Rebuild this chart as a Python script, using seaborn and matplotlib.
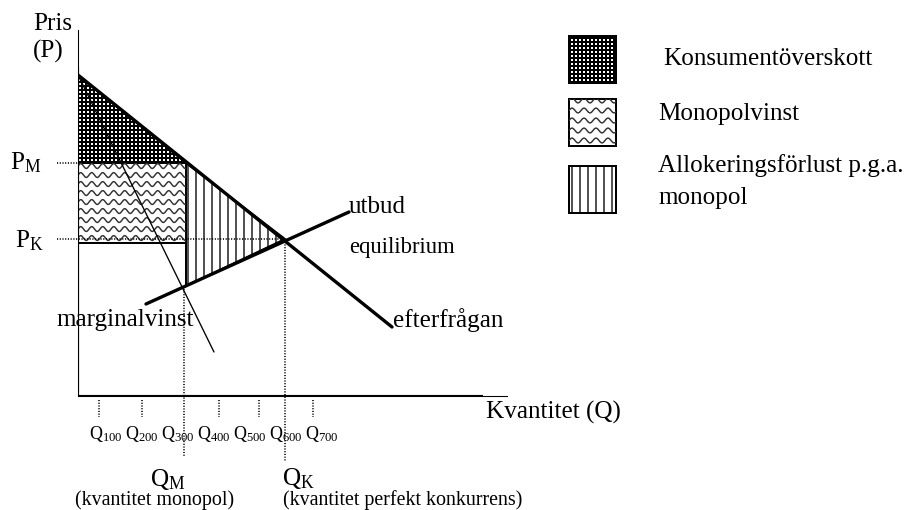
import numpy as np
import matplotlib
matplotlib.use('Agg')
import matplotlib.pyplot as plt
import matplotlib.patches as mpatches
import seaborn as sns

# Kurvor (kvantitet, pris)
demand_q = [0, 314]
demand_p = [321, 69]
supply_q = [68, 271]
supply_p = [92, 184]
mr_q = [0, 136]
mr_p = [321, 44]

# Jämviktspunkter
q_m, p_m = 108, 233
q_k, p_k = 207, 157
p_supply_at_qm = 110
profit_floor = 153

# Prickade markeringar och etiketter på kvantitetsaxeln
tick_marks_q = [21, 64, 141, 181, 235]
tick_labels = ['100', '200', '300', '400', '500', '600', '700']
tick_label_q = [28, 64, 100, 136, 172, 208, 244]

legend_labels = ['Konsumentöverskott', 'Monopolvinst',
                 'Allokeringsförlust p.g.a.', 'monopol']

DPI = 96
sns.set_theme(style='white', rc={'text.color': 'black', 'axes.edgecolor': 'black'})
plt.rcParams['font.family'] = ['Liberation Serif', 'DejaVu Serif']
plt.rcParams['mathtext.fontset'] = 'custom'
plt.rcParams['mathtext.rm'] = 'Liberation Serif'
plt.rcParams['mathtext.it'] = 'Liberation Serif:italic'


def hatch_lw(patch, lw):
    plt.rcParams['hatch.linewidth'] = lw
    if hasattr(patch, 'set_hatch_linewidth'):
        patch.set_hatch_linewidth(lw)


def wavy(ax, x0, x1, y0, y1, clip, spacing=9, period=11, amp=2.4):
    # vågmönster, klippt till rutan
    xs = np.linspace(x0, x1, int((x1 - x0) * 4) + 2)
    for yc in np.arange(y0 + spacing * 0.55, y1, spacing):
        ys = yc + amp * np.sin(2 * np.pi * (xs - x0) / period)
        line, = ax.plot(xs, ys, color='0.2', lw=1.1, zorder=clip.get_zorder() + 0.5)
        line.set_clip_path(clip)


fig = plt.figure(figsize=(904 / DPI, 510 / DPI), dpi=DPI)
ax = fig.add_axes([78 / 904, 114 / 510, 429 / 904, 366 / 510])
ax.set_xlim(0, 429)
ax.set_ylim(0, 366)
ax.set_xticks([])
ax.set_yticks([])
for side in ['top', 'right']:
    ax.spines[side].set_visible(False)
for side in ['left', 'bottom']:
    ax.spines[side].set_linewidth(0.8)
ax.plot([0, 405], [0, 0], color='black', lw=1.6, solid_capstyle='butt', zorder=3)
ax.plot([0, 0], [0, 329], color='black', lw=1.6, solid_capstyle='butt', zorder=3)

# Konsumentöverskott
cs = mpatches.Polygon([[0, demand_p[0]], [0, p_m], [q_m, p_m]], closed=True,
                      facecolor='white', edgecolor='black', hatch='++++', lw=1.5, zorder=1)
hatch_lw(cs, 1.5)
ax.add_patch(cs)

# Monopolvinst
profit = mpatches.Rectangle((0, profit_floor), q_m, p_m - profit_floor,
                            facecolor='white', edgecolor='black', lw=1.5, zorder=1)
ax.add_patch(profit)
wavy(ax, 0, q_m, profit_floor, p_m, profit)

# Allokeringsförlust
dwl = mpatches.Polygon([[q_m, p_m], [q_k, p_k], [q_m, p_supply_at_qm]], closed=True,
                       facecolor='white', edgecolor='black', hatch='||', lw=1.5, zorder=1)
hatch_lw(dwl, 1.0)
ax.add_patch(dwl)

# Kurvor
sns.lineplot(x=demand_q, y=demand_p, ax=ax, color='black', lw=2.5, zorder=5)
sns.lineplot(x=supply_q, y=supply_p, ax=ax, color='black', lw=2.5, zorder=5)
sns.lineplot(x=mr_q, y=mr_p, ax=ax, color='black', lw=1.0, zorder=5)

# Prickade hjälplinjer
dot = dict(color='black', lw=1.2, linestyle=(0, (0.7, 1.0)), clip_on=False, zorder=4)
ax.plot([-21, 0], [p_m, p_m], **dot)
ax.plot([-21, q_k], [p_k, p_k], **dot)
ax.plot([q_m - 2, q_m - 2], [p_supply_at_qm, -61], **dot)
ax.plot([q_k, q_k], [p_k, -66], **dot)
for q in tick_marks_q:
    ax.plot([q, q], [-4, -21], **dot)

# Texter
big = 18.8
ax.text(-45, 366, 'Pris', fontsize=big, va='baseline', ha='left')
ax.text(-45, 338, '(P)', fontsize=big, va='baseline', ha='left')
ax.text(-68, 227, r'P$_{\mathrm{M}}$', fontsize=big, va='baseline', ha='left')
ax.text(-63, 149, r'P$_{\mathrm{K}}$', fontsize=big, va='baseline', ha='left')
ax.text(271, 183, 'utbud', fontsize=big, va='baseline', ha='left')
ax.text(271, 143, 'equilibrium', fontsize=17, va='baseline', ha='left')
ax.text(315, 69, 'efterfrågan', fontsize=big, va='baseline', ha='left')
ax.text(-22, 70, 'marginalvinst', fontsize=big, va='baseline', ha='left')
ax.text(408, -23, 'Kvantitet (Q)', fontsize=big, va='baseline', ha='left')
for q, lab in zip(tick_label_q, tick_labels):
    ax.text(q, -43, r'Q$_{\mathrm{%s}}$' % lab, fontsize=13.5, va='baseline', ha='center')
ax.text(90, -90, r'Q$_{\mathrm{M}}$', fontsize=big, va='baseline', ha='center')
ax.text(204, -89, r'Q$_{\mathrm{K}}$', fontsize=big, va='baseline', ha='left')
ax.text(-3, -109, '(kvantitet monopol)', fontsize=15, va='baseline', ha='left')
ax.text(205, -109, '(kvantitet perfekt konkurrens)', fontsize=15, va='baseline', ha='left')

# Teckenförklaring
box_kw = dict(facecolor='white', edgecolor='black', lw=1.5, clip_on=False, zorder=3)
b1 = mpatches.Rectangle((491, 313), 47, 47, hatch='++++', **box_kw)
hatch_lw(b1, 1.5)
ax.add_patch(b1)
b2 = mpatches.Rectangle((491, 250), 47, 47, **box_kw)
ax.add_patch(b2)
wavy(ax, 491, 538, 250, 297, b2, spacing=10, period=12)
b3 = mpatches.Rectangle((491, 183), 47, 47, hatch='||', **box_kw)
hatch_lw(b3, 1.0)
ax.add_patch(b3)

ax.text(585, 331, legend_labels[0], fontsize=big, va='baseline', ha='left')
ax.text(580, 276, legend_labels[1], fontsize=big, va='baseline', ha='left')
ax.text(580, 224, legend_labels[2], fontsize=big, va='baseline', ha='left')
ax.text(580, 192, legend_labels[3], fontsize=big, va='baseline', ha='left')

ax.set_xlim(0, 429)
ax.set_ylim(0, 366)
fig.savefig('out.png', dpi=DPI)
